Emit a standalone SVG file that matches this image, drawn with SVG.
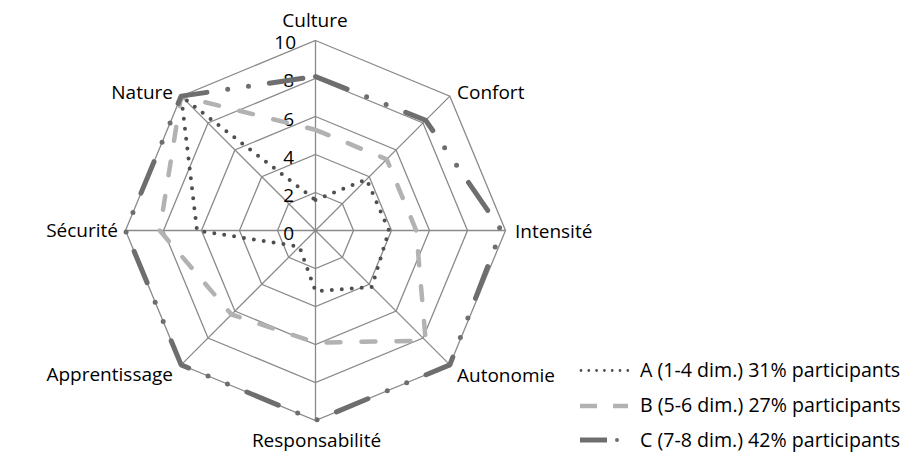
<svg xmlns="http://www.w3.org/2000/svg" width="913" height="462" viewBox="0 0 913 462">
<style>
.grid{fill:none;stroke:#8a8a8a;stroke-width:1.3}
.lbl{font-family:"Open Sans","Liberation Sans",sans-serif;font-size:19px;fill:#000}
.leg{font-family:"Open Sans","Liberation Sans",sans-serif;font-size:19.6px;fill:#000}
.sa{fill:none;stroke:#4f4f4f;stroke-width:4;stroke-dasharray:0 10;stroke-linecap:round;stroke-linejoin:round}
.sb{fill:none;stroke:#b2b2b2;stroke-width:4.5;stroke-dasharray:14 21;stroke-linecap:round;stroke-linejoin:round}
.sc{fill:none;stroke:#6e6e6e;stroke-width:5;stroke-dasharray:34 21 0 21 0 21;stroke-linecap:round;stroke-linejoin:round}
</style>
<rect width="913" height="462" fill="#fff"/>
<g id="grid" transform="translate(315.5,230.5)">
<polygon class="grid" points="0,-38 26.87,-26.87 38,0 26.87,26.87 0,38 -26.87,26.87 -38,0 -26.87,-26.87"/>
<polygon class="grid" points="0,-76 53.74,-53.74 76,0 53.74,53.74 0,76 -53.74,53.74 -76,0 -53.74,-53.74"/>
<polygon class="grid" points="0,-114 80.61,-80.61 114,0 80.61,80.61 0,114 -80.61,80.61 -114,0 -80.61,-80.61"/>
<polygon class="grid" points="0,-152 107.48,-107.48 152,0 107.48,107.48 0,152 -107.48,107.48 -152,0 -107.48,-107.48"/>
<polygon class="grid" points="0,-190 134.35,-134.35 190,0 134.35,134.35 0,190 -134.35,134.35 -190,0 -134.35,-134.35"/>
<path class="grid" d="M0,0V-190M0,0L134.35,-134.35M0,0H190M0,0L134.35,134.35M0,0V190M0,0L-134.35,134.35M0,0H-190M0,0L-134.35,-134.35"/>
</g>
<g id="axis-values" class="lbl" text-anchor="end">
<text x="294" y="240">0</text>
<text x="294" y="202">2</text>
<text x="294" y="164">4</text>
<text x="294" y="125.5">6</text>
<text x="294" y="87">8</text>
<text x="296" y="49">10</text>
</g>
<g id="series" transform="translate(315.5,230.5)">
<polygon id="series-A" class="sa" points="0,-30.4 51.05,-51.05 73.5,0 56.4,56.4 0,60.8 -16.1,16.1 -118.5,0 -134.35,-134.35"/>
<polygon id="series-B" class="sb" points="0,-100.7 71.2,-71.2 100.7,0 110.2,110.2 0,112.1 -84,84 -155.8,0 -134.35,-134.35"/>
<polygon id="series-C" class="sc" points="0,-154 110.2,-110.2 186,0 134.35,134.35 0,190 -134.35,134.35 -190,0 -134.35,-134.35"/>
</g>
<g id="axis-labels" class="lbl">
<text id="culture" x="315" y="26.5" text-anchor="middle">Culture</text>
<text id="confort" x="457" y="99">Confort</text>
<text id="intensite" x="515" y="238">Intensité</text>
<text id="autonomie" x="457" y="381.5">Autonomie</text>
<text id="responsabilite" x="316.5" y="447" text-anchor="middle">Responsabilité</text>
<text id="apprentissage" x="173" y="381" text-anchor="end">Apprentissage</text>
<text id="securite" x="118" y="237" text-anchor="end">Sécurité</text>
<text id="nature" x="173" y="99" text-anchor="end">Nature</text>
</g>
<g id="legend">
<g id="legend-A">
<line x1="581" y1="370.5" x2="628" y2="370.5" stroke="#4f4f4f" stroke-width="2.8" stroke-dasharray="0 7.8" stroke-linecap="round"/>
<text class="leg" x="640" y="377">A (1-4 dim.) 31% participants</text>
</g>
<g id="legend-B">
<line x1="580" y1="406" x2="628" y2="406" stroke="#b2b2b2" stroke-width="4.5" stroke-dasharray="17 16"/>
<text class="leg" x="640" y="412">B (5-6 dim.) 27% participants</text>
</g>
<g id="legend-C">
<line x1="580" y1="440" x2="607" y2="440" stroke="#6e6e6e" stroke-width="5"/>
<circle cx="617" cy="440" r="2" fill="#6e6e6e"/>
<text class="leg" x="640" y="447">C (7-8 dim.) 42% participants</text>
</g>
</g>
</svg>
